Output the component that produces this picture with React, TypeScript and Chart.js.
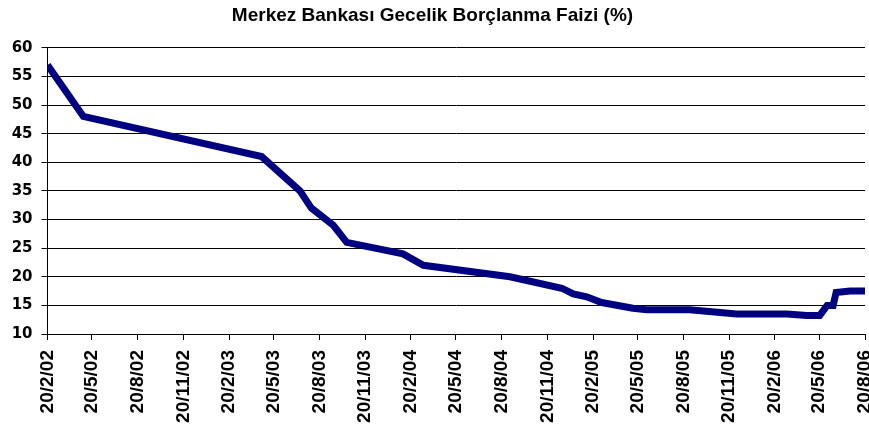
import React, { useEffect, useRef } from "react";
import { Chart, registerables } from "chart.js";

Chart.register(...registerables);

const titleText = "Merkez Bankası Gecelik Borçlanma Faizi (%)";

// x-axis tick labels (d/m/yy)
const tickLabels = [
  "20/2/02", "20/5/02", "20/8/02", "20/11/02",
  "20/2/03", "20/5/03", "20/8/03", "20/11/03",
  "20/2/04", "20/5/04", "20/8/04", "20/11/04",
  "20/2/05", "20/5/05", "20/8/05", "20/11/05",
  "20/2/06", "20/5/06", "20/8/06",
];

// observation dates and overnight borrowing rate (%)
const dates = [
  "2002-02-20", "2002-05-03", "2003-04-26", "2003-07-12", "2003-08-04",
  "2003-09-17", "2003-10-14", "2004-02-04", "2004-03-16", "2004-09-06",
  "2004-12-19", "2005-01-11", "2005-02-07", "2005-03-09", "2005-05-11",
  "2005-06-07", "2005-09-02", "2005-12-05", "2006-03-16", "2006-04-25",
  "2006-05-21", "2006-06-05", "2006-06-17", "2006-06-23", "2006-07-21",
  "2006-08-20",
];
const rates = [
  57, 48, 41, 35, 32,
  29, 26, 24, 22, 20,
  18, 17, 16.5, 15.5, 14.5,
  14.25, 14.25, 13.5, 13.5, 13.25,
  13.25, 15, 15, 17.25, 17.5,
  17.5,
];

const yMin = 10;
const yMax = 60;
const yStep = 5;

const DAY = 86400000;
const labelToTime = (s: string) => {
  const [d, m, y] = s.split("/").map(Number);
  return Date.UTC(2000 + y, m - 1, d);
};
const origin = labelToTime(tickLabels[0]);
const tickDays = tickLabels.map((l) => Math.round((labelToTime(l) - origin) / DAY));
const dataPoints = dates.map((d, i) => ({
  x: Math.round((Date.parse(d + "T00:00:00Z") - origin) / DAY),
  y: rates[i],
}));

export default function App() {
  const ref = useRef<HTMLCanvasElement | null>(null);

  useEffect(() => {
    if (!ref.current) return;
    const chart = new Chart(ref.current, {
      type: "line",
      data: {
        datasets: [
          {
            data: dataPoints,
            borderColor: "#000080",
            backgroundColor: "#000080",
            borderWidth: 7,
            pointRadius: 0,
            tension: 0,
            fill: false,
          },
        ],
      },
      options: {
        animation: false,
        responsive: false,
        maintainAspectRatio: false,
        layout: { padding: { left: 0, right: 4, top: 0, bottom: 0 } },
        plugins: {
          legend: { display: false },
          tooltip: { enabled: false },
          title: {
            display: true,
            text: titleText,
            color: "#000",
            font: { family: "'Liberation Sans', Arial, sans-serif", size: 19, weight: "bold" },
            padding: { top: 4, bottom: 21 },
          },
        },
        scales: {
          x: {
            type: "linear",
            min: tickDays[0],
            max: tickDays[tickDays.length - 1],
            afterBuildTicks: (scale: any) => {
              scale.ticks = tickDays.map((v) => ({ value: v }));
            },
            afterFit: (scale: any) => {
              scale.height = 101;
              scale.paddingLeft = 0;
              scale.paddingRight = 0;
            },
            grid: {
              drawOnChartArea: false,
              drawTicks: true,
              tickLength: 6,
              color: "#000",
            },
            border: { color: "#000", width: 1 },
            ticks: {
              autoSkip: false,
              minRotation: 90,
              maxRotation: 90,
              padding: 10,
              color: "#000",
              font: { family: "'Liberation Sans', Arial, sans-serif", size: 19, weight: "bold" },
              callback: (_v: any, i: number) => tickLabels[i],
            },
          },
          y: {
            min: yMin,
            max: yMax,
            afterFit: (scale: any) => {
              scale.width = 47.5;
              scale.paddingTop = 0;
              scale.paddingBottom = 0;
            },
            grid: {
              color: "#000",
              lineWidth: 1,
              tickLength: 6,
            },
            border: { color: "#000", width: 1 },
            ticks: {
              stepSize: yStep,
              padding: 9,
              color: "#000",
              font: { family: "'DejaVu Sans', sans-serif", size: 15, weight: "bold" },
            },
          },
        },
      },
    } as any);
    return () => chart.destroy();
  }, []);

  return (
    <div style={{ position: "absolute", left: 0, top: 0, width: 869, height: 435 }}>
      <canvas ref={ref} width={869} height={435} style={{ display: "block" }} />
    </div>
  );
}
